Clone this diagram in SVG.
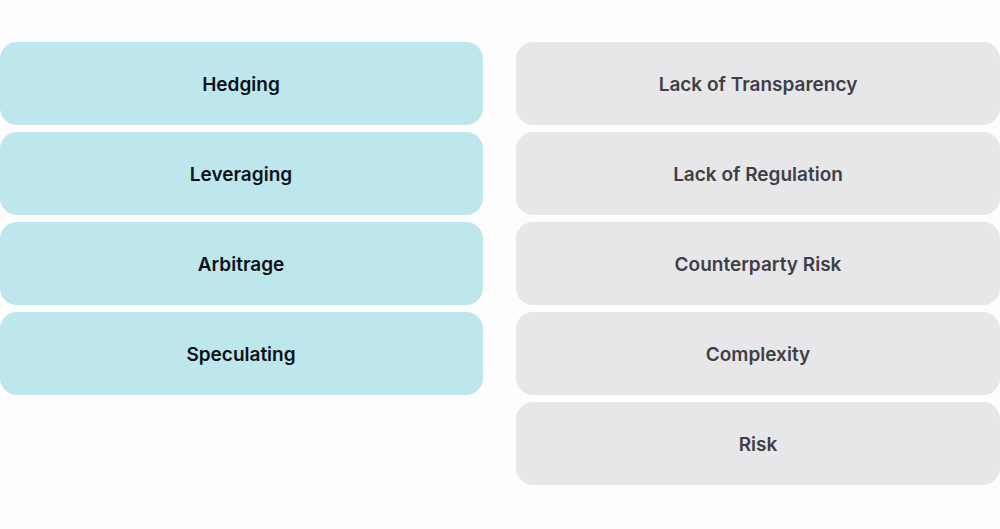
<svg xmlns="http://www.w3.org/2000/svg" width="1000" height="529" viewBox="0 0 1000 529">
<style>
.l{fill:#bde6ed}.r{fill:#e7e6e9}
text{font-family:Inter,"Liberation Sans",sans-serif;font-size:19px;font-weight:600;text-anchor:middle;dominant-baseline:central}
.lt{fill:#0d1117}.rt{fill:#3f3f46}
</style>
<rect width="1000" height="529" fill="#fdfdfd"/>
<g id="hedging"><rect class="l" x="0" y="42" width="483" height="83" rx="17"/><text class="lt" x="241" y="84">Hedging</text></g>
<g id="leveraging"><rect class="l" x="0" y="132" width="483" height="83" rx="17"/><text class="lt" x="241" y="174">Leveraging</text></g>
<g id="arbitrage"><rect class="l" x="0" y="222" width="483" height="83" rx="17"/><text class="lt" x="241" y="264">Arbitrage</text></g>
<g id="speculating"><rect class="l" x="0" y="312" width="483" height="83" rx="17"/><text class="lt" x="241" y="354">Speculating</text></g>
<g id="transparency"><rect class="r" x="516" y="42" width="484" height="83" rx="17"/><text class="rt" x="758" y="84">Lack of Transparency</text></g>
<g id="regulation"><rect class="r" x="516" y="132" width="484" height="83" rx="17"/><text class="rt" x="758" y="174">Lack of Regulation</text></g>
<g id="counterparty"><rect class="r" x="516" y="222" width="484" height="83" rx="17"/><text class="rt" x="758" y="264">Counterparty Risk</text></g>
<g id="complexity"><rect class="r" x="516" y="312" width="484" height="83" rx="17"/><text class="rt" x="758" y="354">Complexity</text></g>
<g id="risk"><rect class="r" x="516" y="402" width="484" height="83" rx="17"/><text class="rt" x="758" y="444">Risk</text></g>
<g id="connectors"/>
</svg>
